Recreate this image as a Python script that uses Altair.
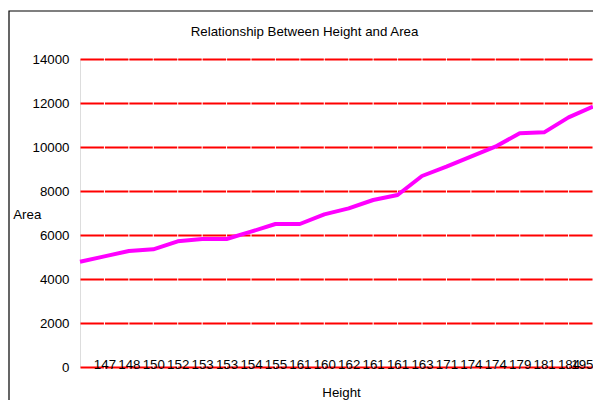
import json
import altair as alt
import pandas as pd

# ---- data ----
heights = ["", "147", "148", "150", "152", "153", "153", "154", "155", "161", "160",
           "162", "161", "161", "163", "171", "174", "174", "179", "181", "184", "195"]
areas = [4786, 5030, 5273, 5348, 5712, 5818, 5818, 6151, 6500, 6500, 6939,
         7212, 7591, 7818, 8682, 9106, 9560, 10015, 10621, 10666, 11348, 11833]
y_ticks = [0, 2000, 4000, 6000, 8000, 10000, 12000, 14000]
title_text = "Relationship Between Height and Area"

df = pd.DataFrame({"idx": list(range(len(heights))), "height": heights, "area": areas})

FONT = "Liberation Sans"
FS = 13.3
W, H = 513, 308
label_expr = json.dumps(heights) + "[datum.value]"

line = alt.Chart(df).mark_line(color="#FF00FF", strokeWidth=4, strokeJoin="round").encode(
    x=alt.X("idx:Q",
            scale=alt.Scale(domain=[0, len(heights) - 1], nice=False, zero=False),
            axis=alt.Axis(values=list(range(1, len(heights))), labelExpr=label_expr,
                          grid=False, domain=False, ticks=False, tickSize=0,
                          labelPadding=1, labelBaseline="alphabetic",
                          labelFlush=True, labelOverlap=False, labelBound=False,
                          labelFont=FONT, labelFontSize=FS, labelColor="#000000",
                          title="Height", titleFont=FONT, titleFontSize=FS,
                          titleFontWeight="normal", titleColor="#000000",
                          titleX=261, titleY=29, titleAlign="center",
                          titleBaseline="alphabetic")),
    y=alt.Y("area:Q",
            scale=alt.Scale(domain=[0, 14000], nice=False),
            axis=alt.Axis(values=y_ticks, format="d", grid=True, gridColor="#FF0000",
                          gridWidth=2, gridOpacity=1, gridDash=[23.43, 1.0],
                          domain=False, ticks=False, tickSize=0, labelPadding=11,
                          labelFont=FONT, labelFontSize=FS, labelColor="#000000",
                          title="Area", titleFont=FONT, titleFontSize=FS,
                          titleFontWeight="normal", titleColor="#000000",
                          titleAngle=0, titleX=-67.3, titleY=159,
                          titleAlign="left", titleBaseline="alphabetic")),
)

title = alt.Chart(alt.Data(values=[{"t": title_text}])).mark_text(
    font=FONT, fontSize=FS, color="#000000", align="left", baseline="alphabetic"
).encode(x=alt.value(110.7), y=alt.value(-23), text="t:N")

frame = alt.Chart(alt.Data(values=[{}])).mark_rect(
    filled=False, stroke="#000000", strokeWidth=1.2
).encode(x=alt.value(-71), y=alt.value(-48), x2=alt.value(700), y2=alt.value(500))

chart = alt.layer(frame, line, title).properties(
    width=W, height=H,
    autosize=alt.AutoSizeParams(type="none"),
    padding={"left": 72, "top": 51, "right": 0, "bottom": 33},
).configure_view(stroke=None).configure(background="#FFFFFF")

chart.save("out.html", embed_options={"renderer": "svg", "actions": False})
